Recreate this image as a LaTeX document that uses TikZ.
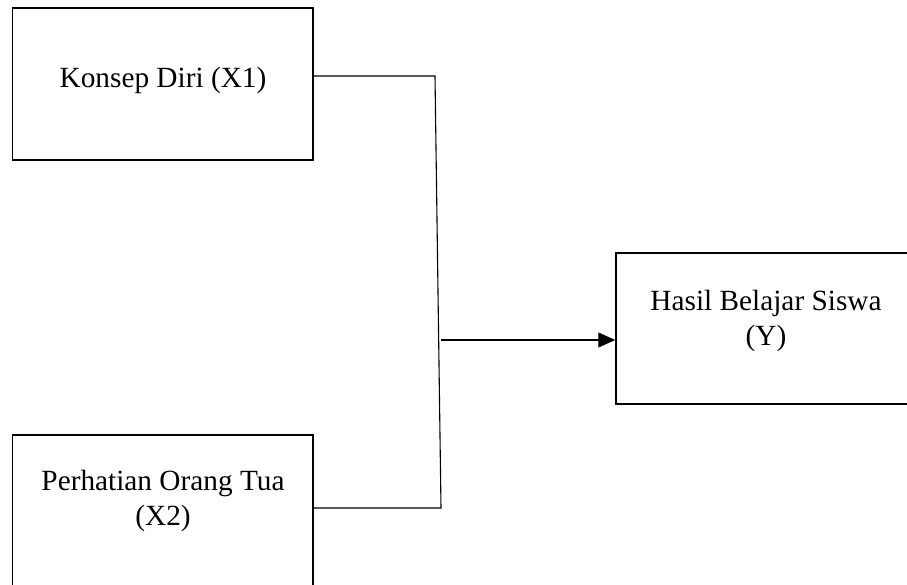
\documentclass[tikz,border=0pt]{standalone}
\usepackage{fontspec}
\setmainfont{Liberation Serif}
\usetikzlibrary{arrows.meta}
\begin{document}
\begin{tikzpicture}[x=1pt,y=1pt,
  box/.style={draw=black,line width=1.5pt,fill=none,rectangle,inner sep=0pt},
  lbl/.style={align=center,font=\fontsize{29.3}{35}\selectfont,inner sep=0pt},
  conn/.style={draw=black,line width=1.1pt}]
\useasboundingbox (0,0) rectangle (907,584);
\clip (0,0) rectangle (907,584);
\node[box,minimum width=300.5pt,minimum height=152pt] (k1) at (162.75,500) {};
\node[box,minimum width=300.5pt,minimum height=155pt] (p2) at (162.75,71.5) {};
\node[box,minimum width=296pt,minimum height=151pt] (y) at (764,255.5) {};
\node[lbl] (tk1) at (163,504) {Konsep Diri (X1)};
\node[lbl] (tp2) at (163,83.5) {Perhatian Orang Tua\\(X2)};
\node[lbl] (ty) at (766,263.5) {Hasil Belajar Siswa\\(Y)};
\coordinate (j1) at (435,508);
\coordinate (j2) at (441,76);
\coordinate (j3) at (441,244);
\draw[conn] (k1.east |- j1) -- (j1) -- (j2) -- (p2.east |- j2);
\draw[conn,-{Triangle[length=17pt,width=15pt]}] (j3) -- (y.west |- j3);
\end{tikzpicture}
\end{document}
